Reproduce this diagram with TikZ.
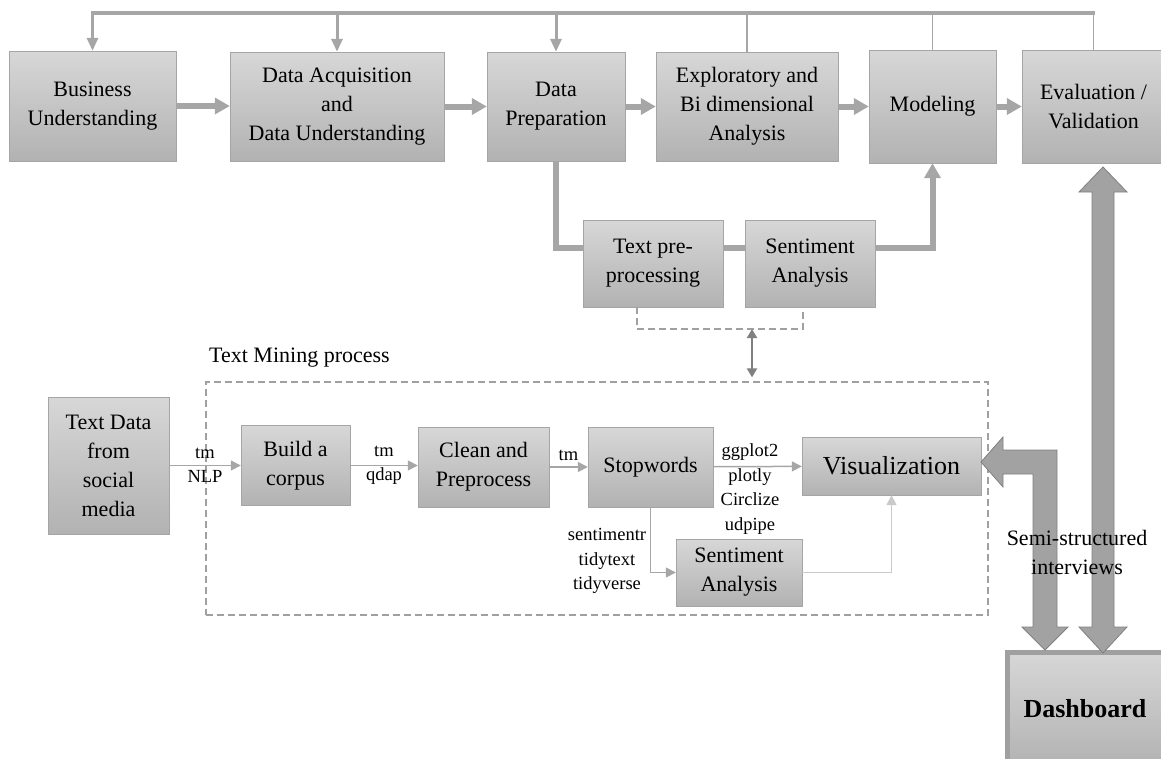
\documentclass[tikz,border=0pt]{standalone}
\usepackage{fontspec}
\setmainfont{Liberation Serif}
\usepackage{tikz}
\usetikzlibrary{positioning}
\usetikzlibrary{arrows.meta}
\definecolor{boxLine}{RGB}{165,165,165}
\definecolor{boxTop}{RGB}{215,215,215}
\definecolor{boxBottom}{RGB}{178,178,178}
\definecolor{flowColor}{RGB}{166,166,166}
\definecolor{lightFlow}{RGB}{202,202,202}
\definecolor{linkColor}{RGB}{128,128,128}
\definecolor{dashColor}{RGB}{160,160,160}
\definecolor{bigFill}{RGB}{162,162,162}
\definecolor{bigLine}{RGB}{128,128,128}

\begin{document}
\begin{tikzpicture}[x=1pt,y=-1pt]

          \tikzstyle{stageNode} = [draw=boxLine, top color=boxTop, bottom color=boxBottom, text=black, align=center, inner sep=0pt, font=\fontsize{22}{29}\selectfont];
          \tikzstyle{labelNode} = [text=black, align=center, inner sep=0pt, font=\fontsize{18.5}{24.5}\selectfont];
          \tikzstyle{mainEdge} = [flowColor, line width=6pt, -{Triangle[length=15pt,width=16pt]}];
          \tikzstyle{feedEdge} = [flowColor, line width=3pt, -{Triangle[length=13pt,width=11pt]}];
          \tikzstyle{thinEdge} = [flowColor, line width=1.5pt, -{Triangle[length=10pt,width=10pt]}];
          \tikzstyle{dashedBox} = [dashColor, line width=1.3pt, dash pattern=on 7pt off 4pt];
          \tikzstyle{bigArrow} = [fill=bigFill, draw=bigLine, line width=0.8pt, line join=miter];

          \clip (0,0) rectangle (1161,758);

          \node[stageNode, minimum width=167pt, minimum height=110pt] (bu) at (92.5,106) {Business\\Understanding};
          \node[stageNode, minimum width=214pt, minimum height=109pt] (dau) at (337,106.5) {Data Acquisition\\and\\Data Understanding};
          \node[stageNode, minimum width=138pt, minimum height=109pt] (dp) at (556,106.5) {Data\\Preparation};
          \node[stageNode, minimum width=182pt, minimum height=109pt] (eda) at (747,106.5) {Exploratory and\\Bi dimensional\\Analysis};
          \node[stageNode, minimum width=127pt, minimum height=113pt] (mod) at (932.5,106.5) {Modeling};
          \node[stageNode, minimum width=143pt, minimum height=113pt] (eval) at (1093.5,106.5) {Evaluation /\\Validation};

          \coordinate (topline) at (0,13);
          \draw[flowColor, line width=3.5pt, line cap=rect] (bu.north |- topline) -- (eval.north |- topline);
          \draw[feedEdge] (bu.north |- topline) -- (bu.north);
          \draw[feedEdge] (dau.north |- topline) -- (dau.north);
          \draw[feedEdge] (dp.north |- topline) -- (dp.north);
          \draw[flowColor, line width=1.5pt] (eda.north) -- (eda.north |- topline);
          \draw[flowColor, line width=1.5pt] (mod.north) -- (mod.north |- topline);
          \draw[flowColor, line width=1.5pt] (eval.north) -- (eval.north |- topline);

          \draw[mainEdge] (bu.east) -- (bu.east -| dau.west);
          \draw[mainEdge] (dau) -- (dp);
          \draw[mainEdge] (dp) -- (eda);
          \draw[mainEdge] (eda) -- (mod);
          \draw[mainEdge] (mod) -- (eval);

          \node[stageNode, minimum width=140pt, minimum height=87pt] (tp) at (653,263.5) {Text pre-\\processing};
          \node[stageNode, minimum width=130pt, minimum height=87pt] (sa) at (810,263.5) {Sentiment\\Analysis};

          \coordinate (midline) at (0,248);
          \draw[flowColor, line width=6pt] (dp.south) |- (tp.west |- midline);
          \draw[flowColor, line width=6pt] (tp.east |- midline) -- (sa.west |- midline);
          \draw[mainEdge] (sa.east |- midline) -| (mod.south);

          \coordinate (brk) at (752,329);
          \draw[dashedBox] ([xshift=-16pt]tp.south) |- (brk) -| ([xshift=-7pt]sa.south);

          \node[dashedBox, draw, minimum width=782pt, minimum height=233pt, inner sep=0pt] (tmp) at (597,498.5) {};
          \node[font=\fontsize{22}{29}\selectfont, inner sep=0pt, anchor=west] (tmlabel) at (209,358) {Text Mining process};
          \draw[linkColor, line width=2pt, {Triangle[length=9pt,width=10pt]}-{Triangle[length=9pt,width=10pt]}, shorten >=4pt] (brk) -- (brk |- tmp.north);

          \node[stageNode, minimum width=121pt, minimum height=137pt] (src) at (108.5,465.5) {Text Data\\from\\social\\media};
          \node[stageNode, minimum width=109pt, minimum height=80pt] (corp) at (295.5,465.5) {Build a\\corpus};
          \node[stageNode, minimum width=131pt, minimum height=80pt] (clean) at (483.5,467) {Clean and\\Preprocess};
          \node[stageNode, minimum width=125pt, minimum height=80pt] (stop) at (650.5,467) {Stopwords};
          \node[stageNode, font=\fontsize{26}{31}\selectfont, minimum width=179pt, minimum height=58pt] (vis) at (891.5,466) {Visualization};
          \node[stageNode, minimum width=126pt, minimum height=67pt] (sent) at (739,572.5) {Sentiment\\Analysis};

          \draw[thinEdge] (src) -- node[labelNode] {tm\\NLP} (corp);
          \draw[thinEdge] (corp.east) -- node[labelNode] {tm\\qdap} (corp.east -| clean.west);
          \draw[thinEdge] (clean) -- node[labelNode, above=6pt] {tm} (stop);
          \draw[thinEdge] (stop) -- (vis);
          \node[labelNode] (vislibs) at (750,489) {ggplot2\\plotly\\Circlize\\udpipe};
          \node[labelNode] (sentlibs) at (607,561) {sentimentr\\tidytext\\tidyverse};
          \draw[thinEdge] (stop.south) |- (sent.west);
          \draw[thinEdge, lightFlow] (sent.east) -| (vis.south);

          \node[draw=dashColor, line width=5pt, top color=boxTop, bottom color=boxBottom, minimum width=156pt, minimum height=114pt, font=\bfseries\fontsize{26}{30}\selectfont] (dash) at (1085,709) {Dashboard};

          \coordinate (evtip) at (1103,167);
          \draw[bigArrow] (evtip) -- ++(24,25) -- ++(-13,0) -- ++(0,435) -- ++(13,0) -- ++(-24,26) -- ++(-24,-26) -- ++(13,0) -- ++(0,-435) -- ++(-13,0) -- cycle;
          \coordinate (vistip) at (981,462);
          \draw[bigArrow] (vistip) -- ++(22,-25) -- ++(0,13) -- ++(54,0) -- ++(0,177) -- ++(11,0) -- ++(-23,23) -- ++(-23,-23) -- ++(11,0) -- ++(0,-153) -- ++(-30,0) -- ++(0,13) -- cycle;

          \node[font=\fontsize{22}{29}\selectfont, align=center, inner sep=0pt] (semi) at (1077,552) {Semi-structured\\interviews};
        \end{tikzpicture}
\end{document}
